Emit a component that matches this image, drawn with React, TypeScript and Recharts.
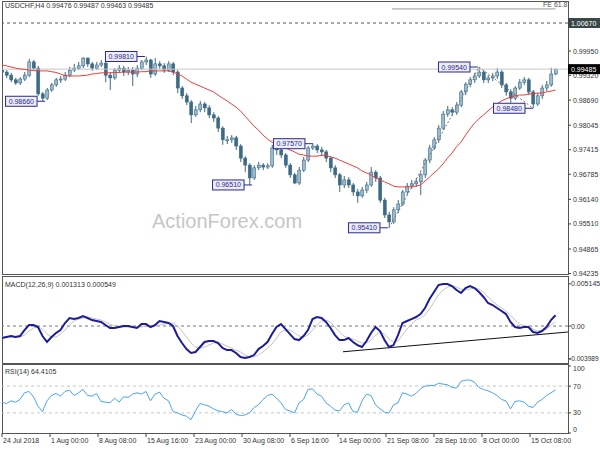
import { Bar, ComposedChart, Line, ReferenceDot, ReferenceLine, XAxis, YAxis } from 'recharts';

const title = 'USDCHF,H4  0.99476 0.99487 0.99463 0.99485';
const macdTitle = 'MACD(12,26,9) 0.001313 0.000549';
const rsiTitle = 'RSI(14) 64.4105';

// one candle = 3 H4 bars
const barStep = 3;

const opens = [
  0.9946, 0.9941, 0.9933, 0.9921, 0.9913, 0.9923, 0.9933, 0.9967, 0.9951, 0.9885,
  0.9874, 0.9895, 0.9908, 0.9921, 0.9923, 0.9933, 0.9946, 0.9951, 0.9957, 0.9977,
  0.9962, 0.9951, 0.9959, 0.9964, 0.9933, 0.9926, 0.9946, 0.9951, 0.9941, 0.9946,
  0.9936, 0.9951, 0.9967, 0.9972, 0.9936, 0.9962, 0.9957, 0.9946, 0.9962, 0.9941,
  0.99, 0.988, 0.9864, 0.9831, 0.9844, 0.9859, 0.9849, 0.9831, 0.9823, 0.9797,
  0.9767, 0.9767, 0.9772, 0.9751, 0.972, 0.9702, 0.9669, 0.9695, 0.9702, 0.9697,
  0.97, 0.9746, 0.9741, 0.9728, 0.9702, 0.9677, 0.9656, 0.9689, 0.9715, 0.9746,
  0.9751, 0.9741, 0.9736, 0.972, 0.9695, 0.9677, 0.9651, 0.9664, 0.9651, 0.9633,
  0.9623, 0.9638, 0.9651, 0.9684, 0.9669, 0.9612, 0.9574, 0.9556, 0.9587, 0.9602,
  0.9633, 0.9648, 0.9654, 0.9659, 0.9677, 0.9715, 0.9746, 0.9767, 0.9797, 0.9833,
  0.9844, 0.9838, 0.9856, 0.989, 0.991, 0.9921, 0.9931, 0.9941, 0.9921, 0.9926,
  0.9931, 0.9941, 0.9908, 0.989, 0.9874, 0.99, 0.9915, 0.9921, 0.989, 0.9859,
  0.988, 0.99, 0.9908, 0.9936,
];
const highs = [
  0.9954, 0.9946, 0.9939, 0.9926, 0.9928, 0.9941, 0.9975, 0.9972, 0.9957, 0.989,
  0.99, 0.9913, 0.9926, 0.9931, 0.9941, 0.9954, 0.9962, 0.9967, 0.9979, 0.9978,
  0.9967, 0.9967, 0.9972, 0.9969, 0.9941, 0.9951, 0.9959, 0.9957, 0.9954, 0.9954,
  0.9959, 0.9972, 0.9981, 0.9975, 0.9977, 0.9969, 0.9964, 0.9969, 0.9967, 0.9946,
  0.9905, 0.9887, 0.9869, 0.9854, 0.9867, 0.9864, 0.9856, 0.9838, 0.9828, 0.9802,
  0.9777, 0.9779, 0.9777, 0.9756, 0.9725, 0.9707, 0.9702, 0.971, 0.9707, 0.9707,
  0.9754, 0.9754, 0.9746, 0.9733, 0.9707, 0.9682, 0.9697, 0.9723, 0.9751, 0.9757,
  0.9756, 0.9749, 0.9741, 0.9725, 0.9702, 0.9682, 0.9674, 0.9671, 0.9656, 0.9641,
  0.9646, 0.9659, 0.9697, 0.9689, 0.9674, 0.9618, 0.9582, 0.9594, 0.9612, 0.9638,
  0.9656, 0.9664, 0.9669, 0.9684, 0.972, 0.9754, 0.9774, 0.9805, 0.9841, 0.9854,
  0.9851, 0.9864, 0.9895, 0.9915, 0.9928, 0.9939, 0.9954, 0.9946, 0.9933, 0.9939,
  0.9951, 0.9946, 0.9913, 0.9897, 0.9905, 0.9923, 0.9928, 0.9926, 0.9895, 0.9887,
  0.9908, 0.9918, 0.9952, 0.99487,
];
const lows = [
  0.9933, 0.9926, 0.9915, 0.9908, 0.9908, 0.9918, 0.9928, 0.9944, 0.988, 0.9866,
  0.9869, 0.989, 0.9903, 0.9913, 0.9918, 0.9928, 0.9941, 0.9946, 0.9951, 0.9954,
  0.9944, 0.9946, 0.9954, 0.9915, 0.9895, 0.9921, 0.9939, 0.9931, 0.9933, 0.9905,
  0.9928, 0.9946, 0.9959, 0.9926, 0.9931, 0.9949, 0.9939, 0.9941, 0.9933, 0.9887,
  0.9872, 0.9856, 0.981, 0.9826, 0.9838, 0.9838, 0.9823, 0.9813, 0.9787, 0.9754,
  0.9756, 0.9759, 0.9741, 0.971, 0.9684, 0.9651, 0.9664, 0.9689, 0.9689, 0.9692,
  0.9695, 0.9728, 0.972, 0.9695, 0.9669, 0.9653, 0.9651, 0.9684, 0.971, 0.9741,
  0.9733, 0.9725, 0.971, 0.9684, 0.9669, 0.9633, 0.9643, 0.9643, 0.9623, 0.9605,
  0.9618, 0.963, 0.9646, 0.9659, 0.9605, 0.9566, 0.9541, 0.9551, 0.9579, 0.9597,
  0.9625, 0.9641, 0.9646, 0.9625, 0.9669, 0.9707, 0.9741, 0.9759, 0.9792, 0.9826,
  0.9828, 0.9831, 0.9851, 0.9882, 0.9903, 0.9913, 0.9926, 0.9913, 0.9913, 0.9918,
  0.9923, 0.99, 0.988, 0.9862, 0.9869, 0.9895, 0.9908, 0.9882, 0.9848, 0.9854,
  0.9872, 0.9892, 0.9903, 0.9933,
];
const closes = [
  0.9941, 0.9933, 0.9921, 0.9913, 0.9923, 0.9933, 0.9967, 0.9951, 0.9885, 0.9874,
  0.9895, 0.9908, 0.9921, 0.9923, 0.9933, 0.9946, 0.9951, 0.9957, 0.9977, 0.9962,
  0.9951, 0.9959, 0.9964, 0.9933, 0.9926, 0.9946, 0.9951, 0.9941, 0.9946, 0.9936,
  0.9951, 0.9967, 0.9972, 0.9936, 0.9962, 0.9957, 0.9946, 0.9962, 0.9941, 0.99,
  0.988, 0.9864, 0.9831, 0.9844, 0.9859, 0.9849, 0.9831, 0.9823, 0.9797, 0.9767,
  0.9767, 0.9772, 0.9751, 0.972, 0.9702, 0.9669, 0.9695, 0.9702, 0.9697, 0.97,
  0.9746, 0.9741, 0.9728, 0.9702, 0.9677, 0.9656, 0.9689, 0.9715, 0.9746, 0.9751,
  0.9741, 0.9736, 0.972, 0.9695, 0.9677, 0.9651, 0.9664, 0.9651, 0.9633, 0.9623,
  0.9638, 0.9651, 0.9684, 0.9669, 0.9612, 0.9574, 0.9556, 0.9587, 0.9602, 0.9633,
  0.9648, 0.9654, 0.9659, 0.9677, 0.9715, 0.9746, 0.9767, 0.9797, 0.9833, 0.9844,
  0.9838, 0.9856, 0.989, 0.991, 0.9921, 0.9931, 0.9941, 0.9921, 0.9926, 0.9931,
  0.9941, 0.9908, 0.989, 0.9874, 0.99, 0.9915, 0.9921, 0.989, 0.9859, 0.988,
  0.99, 0.9908, 0.9936, 0.99485,
];
// red moving average
const sma = [
  0.9959, 0.9957, 0.9954, 0.9951, 0.9949, 0.9948, 0.9946, 0.9945, 0.9944, 0.9944,
  0.9944, 0.9942, 0.994, 0.9936, 0.9932, 0.9931, 0.9931, 0.9931, 0.9932, 0.9933,
  0.9936, 0.9937, 0.9939, 0.9939, 0.9939, 0.994, 0.994, 0.9941, 0.9941, 0.9941,
  0.9941, 0.9942, 0.9942, 0.9944, 0.9944, 0.9944, 0.9944, 0.9944, 0.9941, 0.9936,
  0.9931, 0.9923, 0.9915, 0.991, 0.9905, 0.99, 0.9895, 0.989, 0.9882, 0.9874,
  0.9867, 0.9859, 0.9851, 0.9841, 0.9828, 0.9815, 0.9802, 0.9792, 0.9779, 0.9769,
  0.9761, 0.9756, 0.9751, 0.9746, 0.9741, 0.9736, 0.973, 0.9728, 0.9725, 0.9725,
  0.9725, 0.9727, 0.9727, 0.9723, 0.972, 0.9715, 0.971, 0.9705, 0.97, 0.9695,
  0.9687, 0.9682, 0.9677, 0.9669, 0.9664, 0.9659, 0.9654, 0.9648, 0.9646, 0.9646,
  0.9646, 0.9646, 0.9648, 0.9651, 0.9661, 0.9671, 0.9682, 0.9692, 0.9705, 0.972,
  0.9733, 0.9749, 0.9761, 0.9779, 0.9795, 0.981, 0.9821, 0.9831, 0.9841, 0.9851,
  0.9859, 0.9867, 0.9872, 0.9877, 0.988, 0.9882, 0.9882, 0.9885, 0.9885, 0.9887,
  0.9887, 0.989, 0.9892, 0.9895,
];
const macdMain = [
  -0.00146, -0.00134, -0.00122, -0.00134, -0.00122, -0.00049, 0.00012, 0.00012, -0.00012, -0.00122,
  -0.00195, -0.00134, -0.00085, -0.00049, 0.00037, 0.00098, 0.00085, 0.00098, 0.00122, 0.00098,
  0.00073, 0.00061, 0.00049, 0.00012, -0.00024, -0.00024, -0.00012, 0, 0, -0.00012,
  -0.00024, 0.00024, 0.00024, -0.00012, 0.00012, 0.00061, 0.00049, 0.00037, 0, -0.00122,
  -0.00207, -0.00281, -0.00329, -0.00317, -0.00256, -0.00195, -0.00183, -0.00183, -0.00207, -0.00268,
  -0.00293, -0.00293, -0.00329, -0.00378, -0.0039, -0.00378, -0.00354, -0.00281, -0.00244, -0.00195,
  -0.00098, -0.00012, 0.00024, -0.00037, -0.00098, -0.00159, -0.00171, -0.00122, -0.00049, 0.00085,
  0.0011, 0.00098, 0.00049, -0.00024, -0.0011, -0.00171, -0.00171, -0.00146, -0.00195, -0.00232,
  -0.00256, -0.00183, -0.00085, -0.00012, -0.00061, -0.00171, -0.00256, -0.00232, -0.0011, 0.00037,
  0.00061, 0.00085, 0.0011, 0.00146, 0.0022, 0.00329, 0.00415, 0.005, 0.00512, 0.00512,
  0.00488, 0.00439, 0.00403, 0.00464, 0.00488, 0.00464, 0.00415, 0.00354, 0.00281, 0.00256,
  0.0022, 0.00183, 0.00146, 0.00049, -0.00012, -0.00024, -0.00012, -0.00012, -0.00073, -0.00085,
  -0.00061, -0.00012, 0.00073, 0.00131,
];
const macdSignal = [
  -0.00134, -0.00134, -0.00134, -0.00134, -0.00134, -0.0011, -0.00061, -0.00024, -0.00012, -0.00037,
  -0.00098, -0.00134, -0.00134, -0.00098, -0.00049, 0.00012, 0.00061, 0.00085, 0.00098, 0.0011,
  0.00098, 0.00085, 0.00073, 0.00049, 0.00024, 0, -0.00012, -0.00012, -0.00012, -0.00012,
  -0.00012, -0.00012, 0, 0, 0, 0.00012, 0.00024, 0.00037, 0.00037, 0,
  -0.00061, -0.00134, -0.00207, -0.00256, -0.00268, -0.00256, -0.00232, -0.00207, -0.00195, -0.0022,
  -0.00244, -0.00268, -0.00293, -0.00317, -0.00354, -0.00378, -0.00378, -0.00354, -0.00317, -0.00268,
  -0.0022, -0.00146, -0.00073, -0.00049, -0.00049, -0.00085, -0.00122, -0.00134, -0.0011, -0.00049,
  0.00012, 0.00061, 0.00073, 0.00049, -0.00012, -0.00073, -0.00122, -0.00146, -0.00159, -0.00183,
  -0.00207, -0.00207, -0.00171, -0.0011, -0.00073, -0.00098, -0.00159, -0.00195, -0.00183, -0.0011,
  -0.00037, 0.00024, 0.00073, 0.00098, 0.00134, 0.00207, 0.00293, 0.00378, 0.00439, 0.00476,
  0.00488, 0.00476, 0.00451, 0.00439, 0.00451, 0.00464, 0.00451, 0.00415, 0.00354, 0.00305,
  0.00256, 0.0022, 0.00183, 0.00134, 0.00073, 0.00024, 0, -0.00012, -0.00037, -0.00061,
  -0.00061, -0.00037, 0.00012, 0.00055,
];
const rsi = [
  46, 44, 48, 46, 50, 60, 62, 54, 40, 32,
  48, 56, 59, 55, 62, 64, 56, 60, 65, 56,
  55, 59, 47, 46, 45, 52, 46, 54, 53, 58,
  60, 58, 62, 48, 58, 61, 52, 48, 32, 30,
  27, 25, 20, 33, 44, 42, 40, 36, 33, 32,
  30, 35, 28, 26, 27, 30, 38, 42, 50, 56,
  58, 52, 45, 35, 33, 30, 45, 50, 65, 66,
  58, 55, 45, 40, 34, 33, 42, 45, 32, 31,
  48, 58, 56, 42, 36, 31, 30, 42, 45, 60,
  58, 55, 59, 66, 70, 71, 71, 74, 73, 72,
  68, 67, 77, 79, 79, 76, 68, 65, 63, 60,
  56, 50, 48, 36, 47, 48, 46, 40, 38, 46,
  50, 56, 60, 64.41,
];

const priceTicks = [0.9995, 0.9932, 0.9869, 0.98045, 0.97415, 0.96785, 0.9614, 0.9551, 0.94865, 0.94235];
const targetPrice = 1.0067;
const lastPrice = 0.99485;
const fePrice = 1.01032;
const feTimes = [260, 369];

const swingTimes = [28.7, 95.3, 166.7, 207.3, 257.3, 317.3, 354];
const swingPrices = [0.9866, 0.9981, 0.9651, 0.9757, 0.9541, 0.9954, 0.9848];
const fibTimes = [258, 318, 354];
const fibPrices = [0.9541, 0.9954, 0.9848];

const macdTicks = [0.005145, 0, -0.003989];
const macdTickLabels = ['0.005145', '0.00', '-0.003989'];
const macdTrendTimes = [227.3, 377.3];
const macdTrendValues = [-0.00314, -0.00073];

const rsiTicks = [100, 70, 30, 0];

const xTicks = [0, 32, 64, 96, 128, 160, 192, 224, 256, 288, 320, 352];
const xLabels = [
  '24 Jul 2018', '1 Aug 00:00', '8 Aug 08:00', '15 Aug 16:00', '23 Aug 00:00', '30 Aug 08:00',
  '6 Sep 16:00', '14 Sep 00:00', '21 Sep 08:00', '28 Sep 16:00', '8 Oct 00:00', '15 Oct 08:00',
];

const timeDomain = [0, 377.33];
const priceDomain = [0.94223, 1.01184];
const macdDomain = [-0.00451, 0.00598];

const data = opens.map((open, i) => ({
  t: i * barStep,
  open,
  high: highs[i],
  low: lows[i],
  close: closes[i],
  sma: sma[i],
  macd: macdMain[i],
  signal: macdSignal[i],
  rsi: rsi[i],
}));

const FONT = '"Liberation Sans", Arial, sans-serif';
const INK = '#333';
const CANDLE = '#3d6a84';

function Candle(props: any) {
  const { x, y, width, height, payload } = props;
  if (x == null || !payload) return null;
  const top = Math.min(y, y + height);
  const h = Math.abs(height);
  const { open, high, low, close } = payload;
  const span = high - low || 1;
  const at = (v: number) => top + ((high - v) / span) * h;
  const bodyTop = at(Math.max(open, close));
  const bodyBot = at(Math.min(open, close));
  const cx = x + width / 2;
  return (
    <g>
      <line x1={cx} x2={cx} y1={top} y2={top + h} stroke={CANDLE} strokeWidth={1} />
      <rect
        x={x}
        y={bodyTop}
        width={width}
        height={Math.max(bodyBot - bodyTop, 1)}
        fill={close >= open ? '#9dbccd' : CANDLE}
        stroke={CANDLE}
        strokeWidth={0.6}
      />
    </g>
  );
}

function PriceTick(props: any) {
  const { x, y, payload } = props;
  const v = payload.value;
  const txt = v.toFixed(5);
  if (v === lastPrice || v === targetPrice) {
    return (
      <g>
        <rect x={x - 5} y={y - 5} width={32} height={10} fill={v === lastPrice ? '#000' : '#3b4848'} />
        <text x={x - 2} y={y + 2.5} fontSize={7} fill="#fff">{txt}</text>
      </g>
    );
  }
  return <text x={x} y={y + 2.5} fontSize={7} fill={INK}>{txt}</text>;
}

function MacdTick(props: any) {
  const { x, y, payload } = props;
  const i = macdTicks.indexOf(payload.value);
  const label = macdTickLabels[i];
  const dx = label.length > 8 ? -4 : -2;
  return <text x={x + dx} y={y + 2.5} fontSize={label.length > 8 ? 6.6 : 7} fill={INK}>{label}</text>;
}

function RsiTick(props: any) {
  const { x, y, payload } = props;
  const v = payload.value;
  const dy = v === 100 ? 5 : v === 0 ? -1 : 2.5;
  return <text x={x} y={y + dy} fontSize={7} fill={INK}>{String(v)}</text>;
}

function TimeTick(props: any) {
  const { x, y, payload } = props;
  const i = xTicks.indexOf(payload.value);
  return <text x={x + 1} y={y + 4} fontSize={7} fill={INK}>{xLabels[i]}</text>;
}

function swingShape(text: string) {
  return (p: any) => {
    const { cx, cy } = p;
    return (
      <g>
        <line x1={cx - 8} y1={cy} x2={cx} y2={cy} stroke="#2b2b8c" />
        <rect x={cx - 39.5} y={cy - 5} width={31.5} height={10} fill="#ececfb" stroke="#2b2b8c" />
        <text x={cx - 23.75} y={cy + 2.5} textAnchor="middle" fontSize={7} fill="#2b2b8c">{text}</text>
      </g>
    );
  };
}

const frame = (top: number, height: number) => ({
  position: 'absolute' as const,
  left: 2,
  top,
  width: 567,
  height,
  boxSizing: 'border-box' as const,
  border: '1px solid #555',
});

const caption = (left: number, top: number) => ({
  position: 'absolute' as const,
  left,
  top,
  fontSize: 7,
  lineHeight: '7px',
  color: INK,
  whiteSpace: 'nowrap' as const,
});

export default function App() {
  return (
    <div style={{ position: 'absolute', left: 0, top: 0, width: 600, height: 450, background: '#fff', fontFamily: FONT, overflow: 'hidden' }}>
      <div style={frame(1, 274)} />
      <div style={frame(276, 88)} />
      <div style={frame(364, 70)} />
      <div style={{ position: 'absolute', left: 152, top: 211, fontSize: 20, lineHeight: '20px', color: '#c6c6c6' }}>ActionForex.com</div>

      <div style={{ position: 'absolute', left: 0, top: 0 }}>
        <ComposedChart width={600} height={286} data={data} margin={{ top: 3, right: 0, bottom: 12, left: 2 }}>
          <XAxis type="number" dataKey="t" domain={timeDomain} hide allowDataOverflow />
          <YAxis
            orientation="right"
            width={32}
            domain={priceDomain}
            allowDataOverflow
            ticks={[...priceTicks, targetPrice, lastPrice]}
            interval={0}
            tick={<PriceTick />}
            tickSize={3}
            tickLine={{ stroke: '#444' }}
            axisLine={false}
          />
          <ReferenceLine y={targetPrice} stroke="#555" strokeDasharray="3 3" />
          <ReferenceLine y={lastPrice} stroke="#c8c8c8" />
          <ReferenceLine segment={[{ x: feTimes[0], y: fePrice }, { x: feTimes[1], y: fePrice }]} stroke="#999" />
          <ReferenceLine segment={[{ x: fibTimes[0], y: fibPrices[0] }, { x: fibTimes[1], y: fibPrices[1] }]} stroke="#777" strokeDasharray="2 2" />
          <ReferenceLine segment={[{ x: fibTimes[1], y: fibPrices[1] }, { x: fibTimes[2], y: fibPrices[2] }]} stroke="#777" strokeDasharray="2 2" />
          <Bar dataKey={(d: any) => [d.low, d.high]} barSize={3} shape={<Candle />} isAnimationActive={false} />
          <Line type="linear" dataKey="sma" stroke="#f03c3c" strokeWidth={1} dot={false} activeDot={false} isAnimationActive={false} />
          {swingTimes.map((t, i) => (
            <ReferenceDot key={t} x={t} y={swingPrices[i]} r={0} shape={swingShape(swingPrices[i].toFixed(5))} />
          ))}
        </ComposedChart>
      </div>

      <div style={{ position: 'absolute', left: 0, top: 275 }}>
        <ComposedChart width={600} height={90} data={data} margin={{ top: 2, right: 0, bottom: 2, left: 2 }}>
          <XAxis type="number" dataKey="t" domain={timeDomain} hide allowDataOverflow />
          <YAxis
            orientation="right"
            width={32}
            domain={macdDomain}
            allowDataOverflow
            ticks={macdTicks}
            interval={0}
            tick={<MacdTick />}
            tickSize={3}
            tickLine={{ stroke: '#444' }}
            axisLine={false}
          />
          <ReferenceLine y={0} stroke="#777" strokeDasharray="3 3" />
          <ReferenceLine
            segment={[{ x: macdTrendTimes[0], y: macdTrendValues[0] }, { x: macdTrendTimes[1], y: macdTrendValues[1] }]}
            stroke="#111"
          />
          <Line type="linear" dataKey="signal" stroke="#c4c4c4" strokeWidth={1} dot={false} activeDot={false} isAnimationActive={false} />
          <Line type="linear" dataKey="macd" stroke="#1c1c9c" strokeWidth={2} dot={false} activeDot={false} isAnimationActive={false} />
        </ComposedChart>
      </div>

      <div style={{ position: 'absolute', left: 0, top: 363 }}>
        <ComposedChart width={600} height={87} data={data} margin={{ top: 3, right: 0, bottom: 0, left: 2 }}>
          <XAxis
            type="number"
            dataKey="t"
            domain={timeDomain}
            allowDataOverflow
            ticks={xTicks}
            interval={0}
            height={17}
            tickSize={4}
            tick={<TimeTick />}
            tickLine={{ stroke: '#444' }}
            axisLine={false}
          />
          <YAxis
            orientation="right"
            width={32}
            domain={[0, 100]}
            ticks={rsiTicks}
            interval={0}
            tick={<RsiTick />}
            tickSize={3}
            tickLine={{ stroke: '#444' }}
            axisLine={false}
          />
          <ReferenceLine y={70} stroke="#c8c8c8" strokeDasharray="3 3" />
          <ReferenceLine y={30} stroke="#c8c8c8" strokeDasharray="3 3" />
          <Line type="linear" dataKey="rsi" stroke="#4aa2f5" strokeWidth={1} dot={false} activeDot={false} isAnimationActive={false} />
        </ComposedChart>
      </div>

      <div style={caption(5, 2)}>{title}</div>
      <div style={{ ...caption(543, 1), color: '#555' }}>FE 61.8</div>
      <div style={caption(5, 281)}>{macdTitle}</div>
      <div style={caption(5, 368)}>{rsiTitle}</div>
    </div>
  );
}
